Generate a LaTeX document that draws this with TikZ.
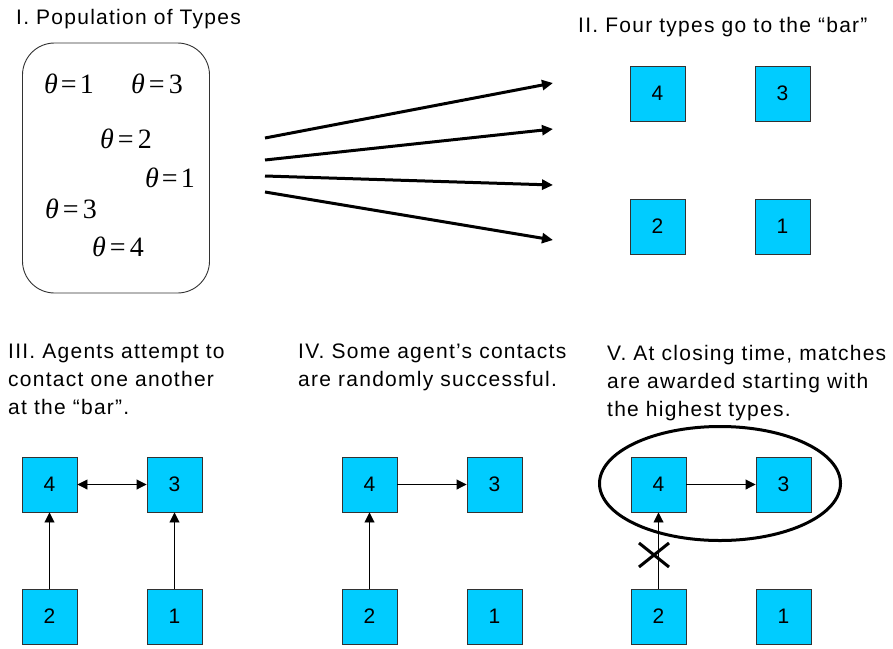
\documentclass[tikz,border=0pt]{standalone}
\usepackage{fontspec}
\newfontfamily\labelfont{Liberation Sans}[LetterSpace=6]
\newfontfamily\numfont{Liberation Sans}
\newfontfamily\thetafont{Liberation Serif}
\usetikzlibrary{arrows.meta,shapes.geometric}
\definecolor{agentblue}{RGB}{0,204,255}
\definecolor{edgegray}{RGB}{50,50,50}
\begin{document}
\begin{tikzpicture}[x=1pt,y=-1pt,
  agent/.style={draw=edgegray, fill=agentblue, minimum size=55pt, inner sep=0pt, line width=0.9pt,
    font=\numfont\fontsize{21}{24}\selectfont},
  title/.style={anchor=north west, inner sep=0pt, align=left,
    font=\labelfont\fontsize{21}{28}\selectfont},
  theta/.style={inner sep=0pt, font=\thetafont\fontsize{28}{32}\selectfont},
  fan/.style={line width=3pt, -{Triangle[length=11pt,width=10pt]}},
  contact/.style={line width=0.9pt, -{Triangle[length=10pt,width=10pt]}},
  both/.style={line width=0.9pt, {Triangle[length=10pt,width=10pt]}-{Triangle[length=10pt,width=10pt]}},
  thick3/.style={line width=3pt}
]
\useasboundingbox (0,0) rectangle (893,648);

% I. Population
\node[title] (t1) at (16,9) {I. Population of Types};
\node[draw=edgegray, line width=0.9pt, rounded corners=32pt, minimum width=187pt, minimum height=250pt] (pop) at (116,168) {};
\node[theta] (a1) at (69,84) {\textit{θ}\hspace{3pt}=\hspace{3pt}1};
\node[theta] (a2) at (157,84) {\textit{θ}\hspace{4pt}=\hspace{4pt}3};
\node[theta] (a3) at (126,139) {\textit{θ}\hspace{4pt}=\hspace{4pt}2};
\node[theta] (a4) at (170,178) {\textit{θ}\hspace{3pt}=\hspace{3pt}1};
\node[theta] (a5) at (71,209) {\textit{θ}\hspace{4pt}=\hspace{4pt}3};
\node[theta] (a6) at (118,247) {\textit{θ}\hspace{4pt}=\hspace{4pt}4};

% fan of arrows
\coordinate (f1s) at (265,138); \coordinate (f1e) at (553,83);
\coordinate (f2s) at (265,160); \coordinate (f2e) at (553,129);
\coordinate (f3s) at (265,176); \coordinate (f3e) at (553,185);
\coordinate (f4s) at (265,192); \coordinate (f4e) at (553,240);
\draw[fan] (f1s) -- (f1e);
\draw[fan] (f2s) -- (f2e);
\draw[fan] (f3s) -- (f3e);
\draw[fan] (f4s) -- (f4e);

% II. Four types
\node[title] (t2) at (578,17) {II. Four types go to the “bar”};
\node[agent] (b4) at (657.5,93.5) {4};
\node[agent] (b3) at (782.5,93.5) {3};
\node[agent] (b2) at (657.5,226.5) {2};
\node[agent] (b1) at (782.5,226.5) {1};

% III
\node[title] (t3) at (8,344) {III. Agents attempt to\\contact one another\\at the “bar”.};
\node[agent] (c4) at (49.5,484.5) {4};
\node[agent] (c3) at (174.5,484.5) {3};
\node[agent] (c2) at (49.5,616.5) {2};
\node[agent] (c1) at (174.5,616.5) {1};
\draw[both] (c4) -- (c3);
\draw[contact] (c2) -- (c4);
\draw[contact] (c1) -- (c3);

% IV
\node[title] (t4) at (298,344) {IV. Some agent’s contacts\\are randomly successful.};
\node[agent] (d4) at (369.5,484.5) {4};
\node[agent] (d3) at (494.5,484.5) {3};
\node[agent] (d2) at (369.5,616.5) {2};
\node[agent] (d1) at (494.5,616.5) {1};
\draw[contact] (d4) -- (d3);
\draw[contact] (d2) -- (d4);

% V
\node[title] (t5) at (607,345) {V. At closing time, matches\\are awarded starting with\\the highest types.};
\node[draw, ellipse, line width=3pt, minimum width=241pt, minimum height=114pt, inner sep=0pt] (pair) at (720,483.5) {};
\node[agent] (e4) at (658.5,484.5) {4};
\node[agent] (e3) at (783.5,484.5) {3};
\node[agent] (e2) at (658.5,616.5) {2};
\node[agent] (e1) at (783.5,616.5) {1};
\draw[contact] (e4) -- (e3);
\draw[contact] (e2) -- (e4);
\coordinate (x1) at (639,543); \coordinate (x2) at (669,567);
\coordinate (x3) at (639,567); \coordinate (x4) at (669,543);
\draw[thick3] (x1) -- (x2);
\draw[thick3] (x3) -- (x4);
\end{tikzpicture}
\end{document}
